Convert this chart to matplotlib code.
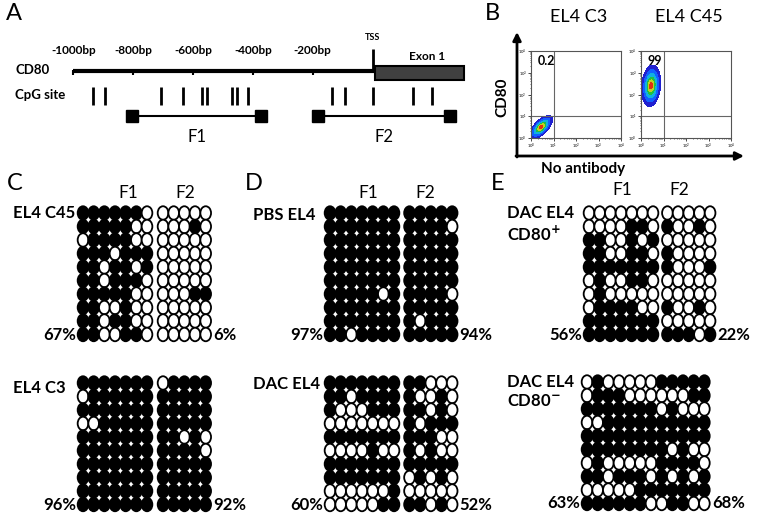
import numpy as np
import matplotlib
matplotlib.use("Agg")
import matplotlib.pyplot as plt
from matplotlib.patches import Ellipse, Rectangle

plt.rcParams["font.family"] = ["Lato", "DejaVu Sans"]

W, H = 763, 519

# panel A: CD80 promoter map, positions in bp relative to the TSS
map_ticks = [-1000, -800, -600, -400, -200]
cpg_sites = [-934, -894, -706, -633, -570, -553, -469, -453, -416,
             -135, -92, 2, 135, 199]
exon1 = (8, 306)
amplicons = {"F1": (-805, -371), "F2": (-182, 259)}

# panel B: flow populations, log10 centre x / y, spread x / y, correlation
flow_titles = ["EL4 C3", "EL4 C45"]
flow_pct = ["0.2", "99"]
flow_pop = [(0.45, 0.5, 0.19, 0.2, 0.65), (0.45, 2.4, 0.16, 0.36, 0.15)]

# panels C-E: bisulfite sequencing, 1 = methylated CpG, 0 = unmethylated
c45_f1 = ["1111110", "1111100", "0111100", "1110111", "1101101",
          "1101110", "1111100", "1100100", "1101100", "1100110"]
c45_f2 = ["00000", "00010", "00000", "00000", "00000",
          "00000", "00011", "00000", "00000", "00000"]
c3_f1 = ["1111111", "0111111", "1111111", "0011111", "1111111",
         "1111111", "1111111", "1111111", "1111111", "1111111"]
c3_f2 = ["01111", "11111", "11111", "11111", "11010",
         "11110", "11111", "11111", "11111", "11111"]
pbs_f1 = ["1111111", "1111111", "1111111", "1111111", "1111111",
          "1111111", "1111101", "1111111", "1111111", "1101111"]
pbs_f2 = ["11111", "11110", "11111", "11111", "11111",
          "11111", "11110", "11111", "10111", "11111"]
dac_f1 = ["1111111", "1101111", "1000111", "0000000", "1111111",
          "0000100", "1111111", "1111111", "0000001", "0000011"]
dac_f2 = ["11000", "10010", "11010", "10111", "11100",
          "10100", "11111", "01010", "00000", "11010"]
pos_f1 = ["0000000", "0000110", "1100101", "1100110", "1111111",
          "0100110", "0100000", "0111100", "1111111", "1111111"]
pos_f2 = ["00000", "10010", "00000", "10000", "10001",
          "00000", "00000", "10010", "00000", "11101"]
neg_f1 = ["0100000", "0111000", "1111111", "0011111", "1111111",
          "1111111", "0100000", "1101110", "0000011", "1111110"]
neg_f2 = ["11111", "00011", "01000", "11111", "11111",
          "10100", "11110", "10101", "11111", "01100"]

CW, RH = 10.67, 13.5


def px(x, y, w, h):
    return [x / W, 1 - (y + h) / H, w / W, h / H]


fig = plt.figure(figsize=(W / 100, H / 100), dpi=100)
canvas = fig.add_axes([0, 0, 1, 1])
canvas.set_xlim(0, W)
canvas.set_ylim(H, 0)
canvas.axis("off")

for letter, x, y in [("A", 6, 14), ("B", 485, 14), ("C", 7, 184),
                     ("D", 245, 184), ("E", 491, 184)]:
    canvas.text(x, y, letter, fontsize=17, ha="left", va="center")

# ---- panel A ----
gm = fig.add_axes(px(0, 0, 500, 170))
gm.set_xlim((0 - 372.5) / 0.2993, (500 - 372.5) / 0.2993)
gm.set_ylim(170, 0)
gm.axis("off")
gm.plot([map_ticks[0], exon1[0]], [71, 71], color="black", lw=3,
        solid_capstyle="butt")
gm.vlines(map_ticks, 70, 75, color="black", lw=1.5)
for t in map_ticks:
    gm.text(t, 50, f"{t}bp", fontsize=8.5, fontweight="bold",
            ha="center", va="center")
gm.vlines(0, 49, 71, color="black", lw=2)
gm.text(0, 37, "TSS", fontsize=6.5, fontweight="bold", ha="center",
        va="center")
gm.add_patch(Rectangle((exon1[0], 66), exon1[1] - exon1[0], 14,
                       facecolor="#404040", edgecolor="black", lw=1.5))
gm.text(183, 57, "Exon 1", fontsize=8.5, fontweight="bold", ha="center",
        va="center")
gm.vlines(cpg_sites, 87, 105, color="black", lw=2)
for name, (a, b) in amplicons.items():
    gm.plot([a, b], [116, 116], color="black", lw=1.5)
    gm.plot([a, b], [116, 116], "s", color="black", ms=9)
    gm.text((a + b) / 2, 137, name, fontsize=12, ha="center", va="center")
canvas.text(15, 70, "CD80", fontsize=9.5, fontweight="bold", va="center")
canvas.text(15, 95, "CpG site", fontsize=9.5, fontweight="bold", va="center")

# ---- panel B ----
lg = np.linspace(0, 4, 240)
gx, gy = np.meshgrid(lg, lg)
for i, (x0, title, pct, pop) in enumerate(
        zip([531, 641], flow_titles, flow_pct, flow_pop)):
    fa = fig.add_axes(px(x0, 51, 90, 87))
    cx, cy, sx, sy, r = pop
    u, v = (gx - cx) / sx, (gy - cy) / sy
    z = np.exp(-(u * u - 2 * r * u * v + v * v) / (2 * (1 - r * r)))
    fa.contourf(10 ** gx, 10 ** gy, z,
                levels=[0.03, 0.12, 0.3, 0.55, 0.75, 0.92, 1.01],
                colors=["#2020d0", "#1060ff", "#10b0e0", "#20c040",
                        "#c0d020", "#e03010"])
    fa.set_xscale("log")
    fa.set_yscale("log")
    fa.set_xlim(1, 1e4)
    fa.set_ylim(1, 1e4)
    fa.axvline(10, color="#666666", lw=0.8)
    fa.axhline(10, color="#666666", lw=0.8)
    for s in fa.spines.values():
        s.set_color("#555555")
        s.set_linewidth(0.8)
    fa.tick_params(labelsize=3, length=2, width=0.5, pad=1)
    fa.tick_params(which="minor", length=1, width=0.4)
    fa.text(0.07, 0.88, pct, transform=fa.transAxes, fontsize=9,
            fontweight="bold", va="center")
    canvas.text(x0 + 48, 17, title, fontsize=13, ha="center", va="center")

canvas.annotate("", xy=(517, 32), xytext=(517, 157),
                arrowprops=dict(arrowstyle="-|>", lw=2, color="black",
                                mutation_scale=12, shrinkA=0, shrinkB=0))
canvas.annotate("", xy=(744, 156), xytext=(516, 156),
                arrowprops=dict(arrowstyle="-|>", lw=2, color="black",
                                mutation_scale=12, shrinkA=0, shrinkB=0))
canvas.text(502, 97, "CD80", fontsize=11, fontweight="bold", rotation=90,
            ha="center", va="center")
canvas.text(583, 169, "No antibody", fontsize=11, fontweight="bold",
            ha="center", va="center")


# ---- panels C-E ----
def draw_grid(f1, f2, x0, y0, gap, pct1, pct2):
    ax = fig.add_axes(px(x0 - CW / 2, y0 - RH / 2, (12 + gap) * CW, 10 * RH))
    ax.set_xlim(-0.5, 11.5 + gap)
    ax.set_ylim(9.5, -0.5)
    ax.axis("off")
    for row, (a, b) in enumerate(zip(f1, f2)):
        cells = [(i, c) for i, c in enumerate(a)]
        cells += [(7 + gap + j, c) for j, c in enumerate(b)]
        for xc, c in cells:
            ax.add_patch(Ellipse((xc, row), 1.0, 1.0, lw=1.3,
                                 edgecolor="black",
                                 facecolor="black" if c == "1" else "white",
                                 clip_on=False))
    ax.text(-0.65, 9, pct1, fontsize=12, fontweight="bold", ha="right",
            va="center", clip_on=False)
    ax.text(11.7 + gap, 9, pct2, fontsize=12, fontweight="bold",
            ha="left", va="center", clip_on=False)


draw_grid(c45_f1, c45_f2, 83, 213, 0.5, "67%", "6%")
draw_grid(c3_f1, c3_f2, 83, 383, 0.5, "96%", "92%")
draw_grid(pbs_f1, pbs_f2, 330, 213, 0.45, "97%", "94%")
draw_grid(dac_f1, dac_f2, 330, 383, 0.45, "60%", "52%")
draw_grid(pos_f1, pos_f2, 589, 213, 0.35, "56%", "22%")
draw_grid(neg_f1, neg_f2, 587, 382, 0.0, "63%", "68%")

for x, y in [(128, 193), (368, 193), (622, 190)]:
    canvas.text(x, y, "F1", fontsize=12.5, ha="center", va="center")
    canvas.text(x + 57, y, "F2", fontsize=12.5, ha="center", va="center")

bold = dict(fontsize=12, fontweight="bold", ha="left", va="center")
canvas.text(13, 213, "EL4 C45", **bold)
canvas.text(13, 388, "EL4 C3", **bold)
canvas.text(253, 215, "PBS EL4", **bold)
canvas.text(253, 384, "DAC EL4", **bold)
canvas.text(507, 213, "DAC EL4", **bold)
canvas.text(507, 234, r"CD80$^{\mathbf{+}}$", **bold)
canvas.text(507, 382, "DAC EL4", **bold)
canvas.text(507, 401, r"CD80$^{\mathbf{-}}$", **bold)

fig.savefig("out.png", dpi=100)
